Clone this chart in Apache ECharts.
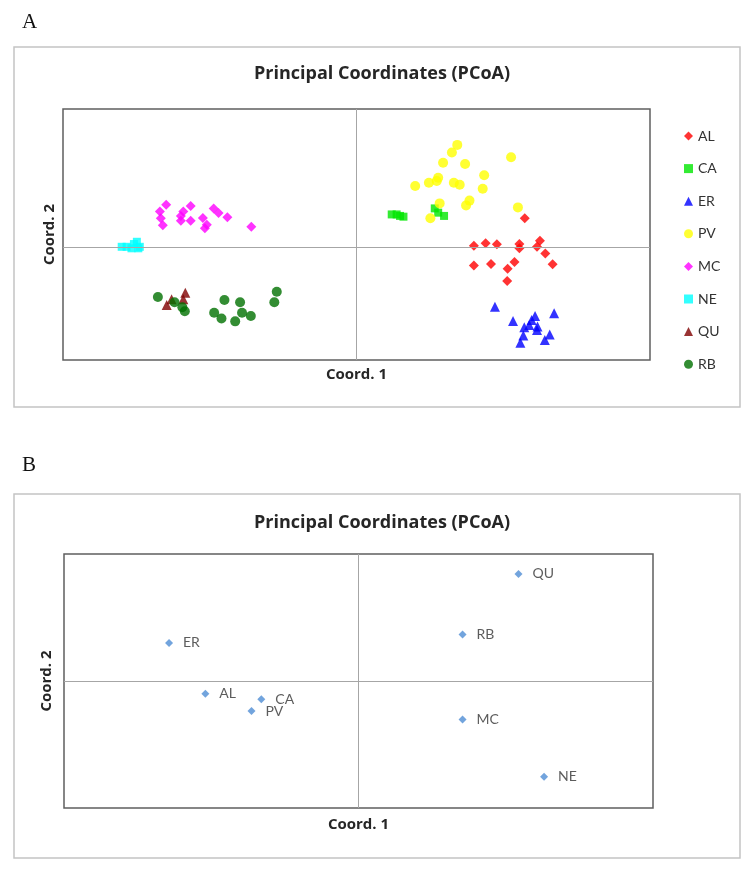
<!DOCTYPE html>
<html>
<head>
<meta charset="utf-8">
<script src="https://cdn.jsdelivr.net/npm/echarts@6/dist/echarts.min.js"></script>
<style>
  html, body { margin: 0; padding: 0; background: #fff; }
  #chart { width: 748px; height: 869px; }
</style>
</head>
<body>
<div id="chart"></div>
<script>
// panel A: individuals per population, [coord1, coord2]
const AL = [[0.344,0.115],[0.240,0.005],[0.264,0.015],[0.287,0.011],[0.333,0.012],[0.333,-0.005],[0.375,0.025],[0.369,0.001],[0.386,-0.026],[0.401,-0.069],[0.240,-0.074],[0.275,-0.068],[0.323,-0.060],[0.309,-0.086],[0.308,-0.135]];
const CA = [[0.072,0.130],[0.082,0.130],[0.089,0.124],[0.096,0.121],[0.160,0.154],[0.167,0.137],[0.179,0.124]];
const ER = [[0.283,-0.238],[0.320,-0.295],[0.404,-0.264],[0.365,-0.275],[0.358,-0.291],[0.343,-0.320],[0.369,-0.330],[0.370,-0.317],[0.395,-0.348],[0.385,-0.370],[0.341,-0.352],[0.335,-0.381],[0.353,-0.311]];
const PV = [[0.206,0.407],[0.195,0.377],[0.177,0.336],[0.222,0.331],[0.316,0.358],[0.261,0.286],[0.167,0.276],[0.164,0.263],[0.148,0.256],[0.120,0.243],[0.199,0.256],[0.211,0.248],[0.258,0.232],[0.231,0.185],[0.224,0.166],[0.170,0.174],[0.151,0.115],[0.330,0.158]];
const MC = [[-0.389,0.169],[-0.402,0.142],[-0.400,0.115],[-0.396,0.087],[-0.354,0.142],[-0.359,0.124],[-0.339,0.164],[-0.359,0.105],[-0.339,0.105],[-0.314,0.116],[-0.310,0.075],[-0.306,0.089],[-0.292,0.154],[-0.282,0.136],[-0.264,0.119],[-0.215,0.081]];
const NE = [[-0.480,0.001],[-0.470,0.001],[-0.460,-0.005],[-0.455,0.012],[-0.449,0.021],[-0.446,-0.005],[-0.443,0.001]];
const QU = [[-0.388,-0.231],[-0.378,-0.208],[-0.354,-0.208],[-0.350,-0.182]];
const RB = [[-0.406,-0.199],[-0.372,-0.220],[-0.356,-0.240],[-0.351,-0.256],[-0.270,-0.211],[-0.238,-0.220],[-0.291,-0.262],[-0.276,-0.285],[-0.248,-0.296],[-0.234,-0.262],[-0.216,-0.275],[-0.168,-0.220],[-0.163,-0.178]];

// panel B: population centroids
const popNames = ['ER', 'AL', 'CA', 'PV', 'QU', 'RB', 'MC', 'NE'];
const popX = [-0.193, -0.156, -0.099, -0.109, 0.163, 0.106, 0.106, 0.189];
const popY = [0.090, -0.030, -0.043, -0.071, 0.253, 0.110, -0.091, -0.226];

const chart = echarts.init(document.getElementById('chart'), null, { renderer: 'canvas' });

const font = 'Lato, "Open Sans", sans-serif';
const boldFont = '"Open Sans", Lato, sans-serif';
const zeroLines = {
  silent: true,
  symbol: 'none',
  label: { show: false },
  lineStyle: { color: '#a6a6a6', width: 1, type: 'solid' },
  data: [{ xAxis: 0 }, { yAxis: 0 }]
};

function plainAxis(min, max, idx, name, gap) {
  return {
    type: 'value', gridIndex: idx, min: min, max: max,
    axisLine: { show: false }, axisTick: { show: false },
    axisLabel: { show: false }, splitLine: { show: false },
    name: name, nameLocation: 'middle', nameGap: gap,
    nameTextStyle: { fontFamily: boldFont, fontWeight: 'bold', fontSize: 15, color: '#262626' }
  };
}

const groupsA = [
  { name: 'AL', data: AL, symbol: 'diamond', size: 10, color: '#ff0000' },
  { name: 'CA', data: CA, symbol: 'rect', size: 8, color: '#00e600' },
  { name: 'ER', data: ER, symbol: 'triangle', size: 10, color: '#0000ff' },
  { name: 'PV', data: PV, symbol: 'circle', size: 10, color: '#ffff00' },
  { name: 'MC', data: MC, symbol: 'diamond', size: 10, color: '#ff00ff' },
  { name: 'NE', data: NE, symbol: 'rect', size: 8, color: '#00ffff' },
  { name: 'QU', data: QU, symbol: 'triangle', size: 10, color: '#800000' },
  { name: 'RB', data: RB, symbol: 'circle', size: 10, color: '#007000' }
];

const seriesA = groupsA.map(function (g, i) {
  const s = {
    name: g.name, type: 'scatter', xAxisIndex: 0, yAxisIndex: 0,
    data: g.data, symbol: g.symbol, symbolSize: g.size,
    itemStyle: { color: g.color }
  };
  if (i === 0) s.markLine = zeroLines;
  return s;
});

const dataB = popNames.map(function (n, i) { return { name: n, value: [popX[i], popY[i]] }; });

const titleStyle = { fontFamily: boldFont, fontWeight: 'bold', fontSize: 18, color: '#262626' };

const option = {
  animation: false,
  backgroundColor: '#fff',
  title: [
    { text: 'Principal Coordinates (PCoA)', left: 377, top: 60, textAlign: 'center', textStyle: titleStyle },
    { text: 'Principal Coordinates (PCoA)', left: 377, top: 509, textAlign: 'center', textStyle: titleStyle }
  ],
  legend: {
    data: groupsA.map(function (g) { return g.name; }),
    orient: 'vertical', left: 679, top: 123,
    itemWidth: 9, itemHeight: 9, itemGap: 16.6,
    textStyle: { fontFamily: font, fontSize: 14, color: '#333', lineHeight: 16 }
  },
  grid: [
    { left: 63, top: 109, width: 587, height: 251, show: true, borderColor: '#5f5f5f', borderWidth: 1.5, backgroundColor: '#fff' },
    { left: 64, top: 554, width: 589, height: 254, show: true, borderColor: '#5f5f5f', borderWidth: 1.5, backgroundColor: '#fff' }
  ],
  xAxis: [plainAxis(-0.6, 0.6, 0, 'Coord. 1', 7), plainAxis(-0.3, 0.3, 1, 'Coord. 1', 9)],
  yAxis: [plainAxis(-0.45, 0.55, 0, 'Coord. 2', 6), plainAxis(-0.3, 0.3, 1, 'Coord. 2', 10)],
  graphic: [
    { type: 'rect', shape: { x: 14, y: 47, width: 726, height: 360 }, style: { fill: 'none', stroke: '#c4c4c4', lineWidth: 1.5 }, z: 0 },
    { type: 'rect', shape: { x: 14, y: 494, width: 726, height: 364 }, style: { fill: 'none', stroke: '#c4c4c4', lineWidth: 1.5 }, z: 0 },
    { type: 'text', left: 22, top: 12, style: { text: 'A', font: '21px "Liberation Serif", serif', fill: '#111' } },
    { type: 'text', left: 22, top: 455, style: { text: 'B', font: '21px "Liberation Serif", serif', fill: '#111' } }
  ],
  series: seriesA.concat([{
    name: 'centroids', type: 'scatter', xAxisIndex: 1, yAxisIndex: 1,
    data: dataB, symbol: 'diamond', symbolSize: 8,
    itemStyle: { color: '#4f8dd4' },
    label: { show: true, position: 'right', distance: 10, formatter: '{b}',
      fontFamily: font, fontSize: 14, color: '#333' },
    markLine: zeroLines
  }])
};

chart.setOption(option);
</script>
</body>
</html>
